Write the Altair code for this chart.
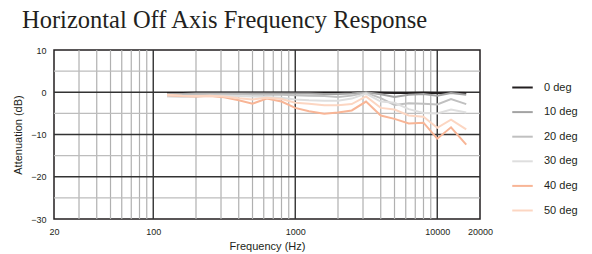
import altair as alt
import pandas as pd

freqs = [125, 160, 200, 250, 315, 400, 500, 630, 800, 1000, 1250, 1600,
         2000, 2500, 3150, 4000, 5000, 6300, 8000, 10000, 12500, 16000]
deg0 = [-0.2, -0.2, -0.1, -0.1, -0.1, -0.1, -0.1, -0.1, -0.1, -0.1, -0.1, -0.1,
        -0.1, -0.1, 0.0, -0.1, -0.2, -0.2, -0.1, -0.2, -0.1, -0.2]
deg10 = [-0.4, -0.4, -0.3, -0.3, -0.3, -0.3, -0.3, -0.3, -0.3, -0.3, -0.3, -0.4,
         -0.4, -0.3, 0.0, -0.5, -1.1, -0.6, -0.4, -0.8, -0.2, -0.6]
deg20 = [-0.6, -0.6, -0.5, -0.5, -0.5, -0.5, -0.6, -0.6, -0.6, -0.7, -0.8, -0.9,
         -1.1, -0.8, -0.1, -1.4, -3.0, -2.6, -2.7, -2.9, -1.6, -2.8]
deg30 = [-1.0, -1.1, -1.0, -0.8, -0.8, -0.9, -1.0, -1.1, -1.3, -1.7, -1.9, -2.0,
         -2.0, -1.5, -0.3, -2.2, -2.5, -4.0, -4.9, -5.0, -4.1, -4.8]
deg40 = [-0.7, -0.9, -1.0, -0.9, -1.2, -1.9, -2.7, -1.5, -2.2, -3.7, -4.5, -5.1,
         -4.8, -4.3, -2.2, -5.5, -6.3, -7.4, -7.2, -11.0, -8.3, -12.4]
deg50 = [-0.6, -0.8, -0.9, -0.8, -1.0, -1.4, -1.7, -1.3, -1.6, -2.5, -2.7, -3.1,
         -3.1, -2.8, -1.0, -3.7, -4.1, -5.5, -5.8, -8.4, -6.5, -8.8]

series_names = ["0 deg", "10 deg", "20 deg", "30 deg", "40 deg", "50 deg"]
series_vals = [deg0, deg10, deg20, deg30, deg40, deg50]
series_colors = ["#231f20", "#a3a3a3", "#c0c0c0", "#dedede", "#f8b596", "#fcd6c2"]

x_ticks = [20, 100, 1000, 10000, 20000]
y_ticks = [10, 0, -10, -20, -30]
minor_x = [30, 40, 50, 60, 70, 80, 90, 200, 300, 400, 500, 600, 700, 800, 900,
           2000, 3000, 4000, 5000, 6000, 7000, 8000, 9000]
major_x = [100, 1000, 10000]
minor_y = [5, -5, -15, -25]
major_y = [0, -10, -20]

rows = []
for name, vals in zip(series_names, series_vals):
    for f, v in zip(freqs, vals):
        rows.append({"freq": f, "db": v, "series": name, "order": series_names.index(name)})
df = pd.DataFrame(rows)

FONT = "Liberation Sans"
INK = "#231f20"

xscale = alt.Scale(type="log", domain=[20, 20000], nice=False)
yscale = alt.Scale(domain=[-30, 10], nice=False)

minor_vx = alt.Chart(pd.DataFrame({"f": minor_x})).mark_rule(
    color="#b0b0b0", strokeWidth=1.2).encode(x=alt.X("f:Q", scale=xscale))
minor_hy = alt.Chart(pd.DataFrame({"d": minor_y})).mark_rule(
    color="#bdbdbd", strokeWidth=1.2).encode(y=alt.Y("d:Q", scale=yscale))
major_vx = alt.Chart(pd.DataFrame({"f": major_x})).mark_rule(
    color="#333333", strokeWidth=1.4).encode(x=alt.X("f:Q", scale=xscale))
major_hy = alt.Chart(pd.DataFrame({"d": major_y})).mark_rule(
    color="#333333", strokeWidth=1.4).encode(y=alt.Y("d:Q", scale=yscale))

lines = alt.Chart(df).mark_line(strokeWidth=2).encode(
    x=alt.X("freq:Q", scale=xscale,
            axis=alt.Axis(values=x_ticks, format="d", grid=False, ticks=False, domain=False,
                          labelFont=FONT, labelFontSize=9, labelColor=INK,
                          labelPadding=8, labelFlush=False,
                          title="Frequency (Hz)", titleFont=FONT, titleFontSize=11,
                          titleFontWeight="normal", titleColor=INK,
                          titleY=27, titleBaseline="middle")),
    y=alt.Y("db:Q", scale=yscale,
            axis=alt.Axis(values=y_ticks, format="d", grid=False, ticks=False, domain=False,
                          labelFont=FONT, labelFontSize=9, labelColor=INK,
                          labelPadding=8,
                          title="Attenuation (dB)", titleFont=FONT, titleFontSize=11,
                          titleFontWeight="normal", titleColor=INK,
                          titleX=-36, titleBaseline="middle")),
    color=alt.Color("series:N",
                    scale=alt.Scale(domain=series_names, range=series_colors),
                    legend=alt.Legend(title=None, orient="none", legendX=457, legendY=26,
                                      symbolType="stroke", symbolStrokeWidth=2,
                                      symbolSize=420, labelFont=FONT, labelFontSize=11,
                                      labelColor=INK, labelOffset=10, rowPadding=7.6,
                                      padding=0)),
    order=alt.Order("order:Q"),
    detail="series:N",
)

chart = alt.layer(minor_vx, minor_hy, major_vx, major_hy, lines).properties(
    width=426, height=169,
    title=alt.TitleParams("Horizontal Off Axis Frequency Response", anchor="start",
                          frame="group",
                          font="Liberation Serif", fontSize=24.5, fontWeight="normal",
                          color=INK, dx=-32, offset=13),
    autosize=alt.AutoSizeParams(type="none"),
    padding={"left": 46, "top": 42, "right": 104, "bottom": 36},
).configure_view(stroke=INK, strokeWidth=1.5)

chart.save("out.html", embed_options={"renderer": "svg", "actions": False})
